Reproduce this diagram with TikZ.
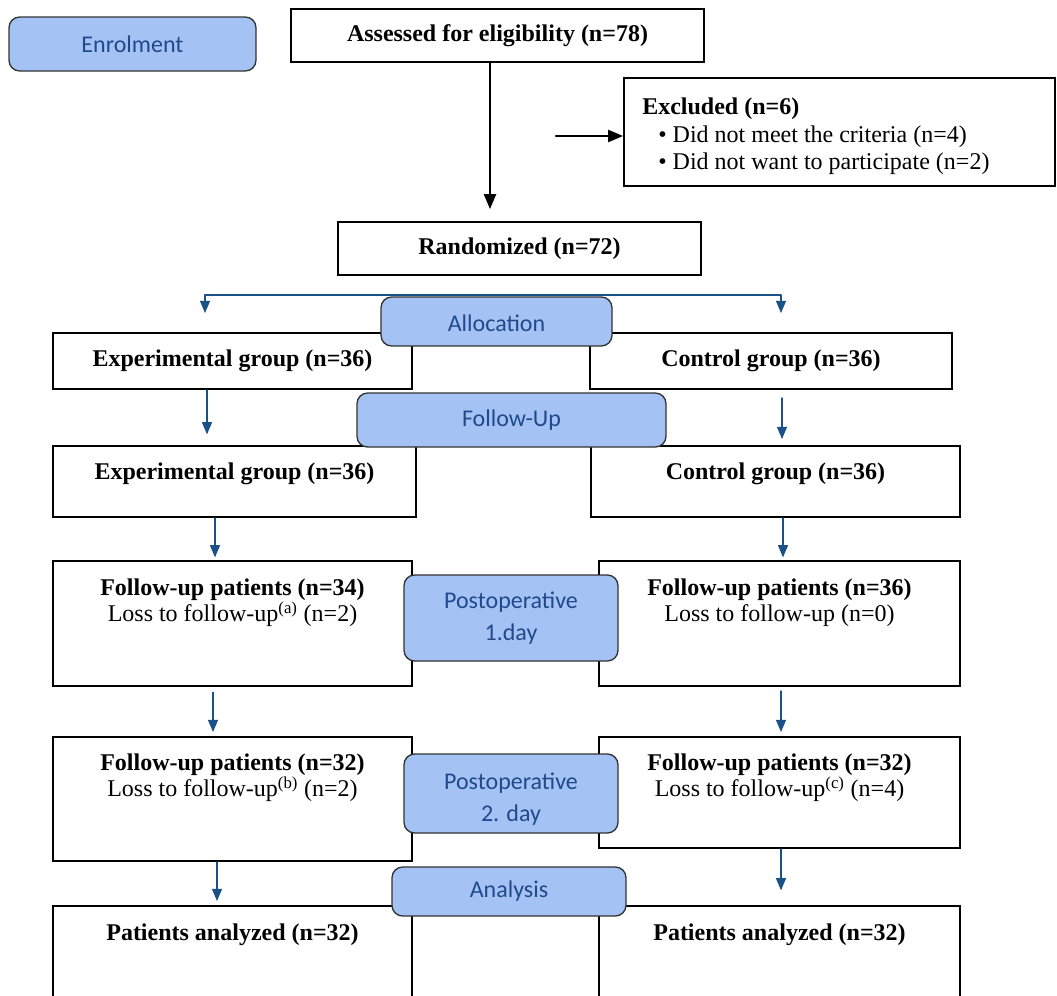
\documentclass[tikz,border=0pt]{standalone}
\usepackage{fontspec}
\setmainfont{Liberation Serif}
\newfontfamily\calibfont{Carlito}
\usepackage{tikz}
\usetikzlibrary{arrows,positioning,fit}
\definecolor{stagefill}{RGB}{164,194,244}
\definecolor{stagetext}{RGB}{32,74,140}
\definecolor{linkblue}{RGB}{26,82,135}

\begin{document}
\begin{tikzpicture}[line cap=round,line join=round,>=triangle 45,x=0.75pt,y=0.75pt,
  box/.style={draw,line width=1.5pt,line join=miter,inner sep=0pt},
  inbox/.style={inner sep=0pt,align=center,font=\fontsize{18}{19.5}\selectfont},
  stage/.style={draw=black!80,line width=1pt,fill=stagefill,rounded corners=8pt,inner sep=0pt},
  stagelbl/.style={inner sep=0pt,align=center,text=stagetext,font=\calibfont\fontsize{18}{24}\selectfont},
  karrow/.style={->,line width=1.6pt},
  barrow/.style={->,draw=linkblue,line width=1.1pt}]
\useasboundingbox (0,0) rectangle (1057,-996);
\clip (0,0) rectangle (1057,-996);
\node[box,fit={(291,-9) (704,-62)}] (assess) {};
\node[box,fit={(624,-78) (1055,-186)}] (excl) {};
\node[box,fit={(338,-222) (701,-275)}] (rand) {};
\node[box,fit={(53,-333) (412,-389)}] (expA) {};
\node[box,fit={(590,-333) (952,-389)}] (ctrlA) {};
\node[box,fit={(53,-446) (416,-517)}] (expB) {};
\node[box,fit={(591,-446) (960,-517)}] (ctrlB) {};
\node[box,fit={(53,-561) (412,-686)}] (fuA) {};
\node[box,fit={(599,-561) (960,-686)}] (fuB) {};
\node[box,fit={(53,-737) (412,-861)}] (fuC) {};
\node[box,fit={(599,-737) (960,-848)}] (fuD) {};
\node[box,fit={(53,-906) (412,-1010)}] (anA) {};
\node[box,fit={(599,-906) (960,-1010)}] (anB) {};
\node[inbox] (assesst) at (assess) {\textbf{Assessed for eligibility (n=78)}};
\node[inbox,align=left,anchor=north west,font=\fontsize{18}{20.5}\selectfont] (excltxt) at (642,-98) {\textbf{Excluded (n=6)}\\\hspace*{12pt}\textbullet\ Did not meet the criteria (n=4)\\\hspace*{12pt}\textbullet\ Did not want to participate (n=2)};
\node[inbox] (randt) at (rand) {\textbf{Randomized (n=72)}};
\node[inbox] (expAt) at (expA) {\textbf{Experimental group (n=36)}};
\node[inbox] (ctrlAt) at (ctrlA) {\textbf{Control group (n=36)}};
\node[inbox,below=13pt of expB.north] (expBt) {\textbf{Experimental group (n=36)}};
\node[inbox,below=13pt of ctrlB.north] (ctrlBt) {\textbf{Control group (n=36)}};
\node[inbox,below=14pt of fuA.north] (fuAt) {\textbf{Follow-up patients (n=34)}\\Loss to follow-up\textsuperscript{(a)} (n=2)};
\node[inbox,below=14pt of fuB.north] (fuBt) {\textbf{Follow-up patients (n=36)}\\Loss to follow-up (n=0)};
\node[inbox,below=13.5pt of fuC.north] (fuCt) {\textbf{Follow-up patients (n=32)}\\Loss to follow-up\textsuperscript{(b)} (n=2)};
\node[inbox,below=13.5pt of fuD.north] (fuDt) {\textbf{Follow-up patients (n=32)}\\Loss to follow-up\textsuperscript{(c)} (n=4)};
\node[inbox,below=14pt of anA.north] (anAt) {\textbf{Patients analyzed (n=32)}};
\node[inbox,below=14pt of anB.north] (anBt) {\textbf{Patients analyzed (n=32)}};
\node[stage,fit={(9,-17) (256,-71)}] (enrol) {};
\node[stage,fit={(381,-297) (612,-346)}] (alloc) {};
\node[stage,fit={(357,-393) (666,-447)}] (follow) {};
\node[stage,fit={(404,-575) (618,-661)}] (postA) {};
\node[stage,fit={(404,-754) (618,-833)}] (postB) {};
\node[stage,fit={(392,-867) (626,-916)}] (analysis) {};
\node[stagelbl] (enrolt) at (enrol) {Enrolment};
\node[stagelbl] (alloct) at ([yshift=-1pt]alloc.center) {Allocation};
\node[stagelbl] (followt) at (follow) {Follow-Up};
\node[stagelbl] (postAt) at (postA) {Postoperative\\1.day};
\node[stagelbl] (postBt) at ([yshift=-4pt]postB.center) {Postoperative\\2. day};
\node[stagelbl] (analysist) at (analysis) {Analysis};
\coordinate (exin) at (556,-136);
\coordinate (brL) at (205,-295);
\coordinate (brR) at (781,-295);
\draw[karrow,shorten >=9pt] (assess.south -| 490,0) -- (rand.north -| 490,0);
\draw[karrow] (exin) -- (exin -| excl.west);
\draw[barrow,<->] (brL |- 0,-313) -- (brL) -- (brR) -- (brR |- 0,-313);
\draw[barrow,shorten >=8pt] (expA.south -| 207,0) -- (expB.north -| 207,0);
\draw[barrow,shorten <=6pt,shorten >=4.5pt] (ctrlA.south -| 782,0) -- (ctrlB.north -| 782,0);
\draw[barrow,shorten >=2pt] (expB.south -| 215,0) -- (fuA.north -| 215,0);
\draw[barrow,shorten >=2pt] (ctrlB.south -| 783,0) -- (fuB.north -| 783,0);
\draw[barrow,shorten <=4pt,shorten >=3pt] (fuA.south -| 213,0) -- (fuC.north -| 213,0);
\draw[barrow,shorten <=3pt,shorten >=3pt] (fuB.south -| 781,0) -- (fuD.north -| 781,0);
\draw[barrow,shorten >=3pt] (fuC.south -| 217,0) -- (anA.north -| 217,0);
\draw[barrow,shorten >=11pt] (fuD.south -| 781,0) -- (anB.north -| 781,0);
\end{tikzpicture}
\end{document}
